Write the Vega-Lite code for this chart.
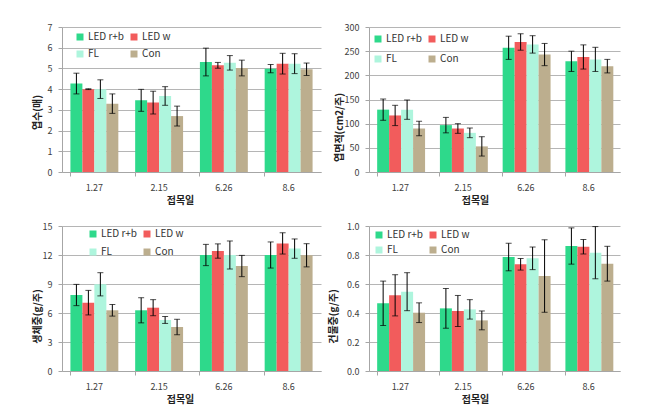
{
  "$schema": "https://vega.github.io/schema/vega-lite/v6.json",
  "padding": {"left": 32, "top": 23, "right": 5, "bottom": 5},
  "background": "white",
  "bounds": "flush",
  "spacing": {"row": 54, "column": 48},
  "columns": 2,
  "datasets": {
    "leafno": [
      {"date": "1.27", "trt": "LED r+b", "v": 4.27, "e": 0.5},
      {"date": "1.27", "trt": "LED w", "v": 4.0, "e": 0.02},
      {"date": "1.27", "trt": "FL", "v": 4.0, "e": 0.45},
      {"date": "1.27", "trt": "Con", "v": 3.3, "e": 0.47},
      {"date": "2.15", "trt": "LED r+b", "v": 3.46, "e": 0.53},
      {"date": "2.15", "trt": "LED w", "v": 3.35, "e": 0.55},
      {"date": "2.15", "trt": "FL", "v": 3.67, "e": 0.45},
      {"date": "2.15", "trt": "Con", "v": 2.7, "e": 0.48},
      {"date": "6.26", "trt": "LED r+b", "v": 5.31, "e": 0.67},
      {"date": "6.26", "trt": "LED w", "v": 5.15, "e": 0.14},
      {"date": "6.26", "trt": "FL", "v": 5.27, "e": 0.35},
      {"date": "6.26", "trt": "Con", "v": 5.02, "e": 0.38},
      {"date": "8.6", "trt": "LED r+b", "v": 4.99, "e": 0.2},
      {"date": "8.6", "trt": "LED w", "v": 5.23, "e": 0.5},
      {"date": "8.6", "trt": "FL", "v": 5.23, "e": 0.48},
      {"date": "8.6", "trt": "Con", "v": 4.96, "e": 0.3}
    ],
    "area": [
      {"date": "1.27", "trt": "LED r+b", "v": 129, "e": 22},
      {"date": "1.27", "trt": "LED w", "v": 117, "e": 21},
      {"date": "1.27", "trt": "FL", "v": 129, "e": 20},
      {"date": "1.27", "trt": "Con", "v": 90, "e": 15},
      {"date": "2.15", "trt": "LED r+b", "v": 97, "e": 16},
      {"date": "2.15", "trt": "LED w", "v": 90, "e": 10},
      {"date": "2.15", "trt": "FL", "v": 81, "e": 10},
      {"date": "2.15", "trt": "Con", "v": 53, "e": 20},
      {"date": "6.26", "trt": "LED r+b", "v": 257, "e": 24},
      {"date": "6.26", "trt": "LED w", "v": 269, "e": 17},
      {"date": "6.26", "trt": "FL", "v": 264, "e": 18},
      {"date": "6.26", "trt": "Con", "v": 243, "e": 23},
      {"date": "8.6", "trt": "LED r+b", "v": 229, "e": 21},
      {"date": "8.6", "trt": "LED w", "v": 238, "e": 25},
      {"date": "8.6", "trt": "FL", "v": 233, "e": 25},
      {"date": "8.6", "trt": "Con", "v": 219, "e": 14}
    ],
    "fresh": [
      {"date": "1.27", "trt": "LED r+b", "v": 7.86, "e": 1.1},
      {"date": "1.27", "trt": "LED w", "v": 7.07, "e": 1.27},
      {"date": "1.27", "trt": "FL", "v": 8.97, "e": 1.2},
      {"date": "1.27", "trt": "Con", "v": 6.28, "e": 0.6},
      {"date": "2.15", "trt": "LED r+b", "v": 6.28, "e": 1.3},
      {"date": "2.15", "trt": "LED w", "v": 6.55, "e": 0.83},
      {"date": "2.15", "trt": "FL", "v": 5.28, "e": 0.36},
      {"date": "2.15", "trt": "Con", "v": 4.55, "e": 0.8},
      {"date": "6.26", "trt": "LED r+b", "v": 12.0, "e": 1.1},
      {"date": "6.26", "trt": "LED w", "v": 12.41, "e": 0.74},
      {"date": "6.26", "trt": "FL", "v": 12.0, "e": 1.45},
      {"date": "6.26", "trt": "Con", "v": 10.86, "e": 1.1},
      {"date": "8.6", "trt": "LED r+b", "v": 12.0, "e": 1.35},
      {"date": "8.6", "trt": "LED w", "v": 13.2, "e": 1.1},
      {"date": "8.6", "trt": "FL", "v": 12.66, "e": 1.0},
      {"date": "8.6", "trt": "Con", "v": 11.97, "e": 1.2}
    ],
    "dry": [
      {"date": "1.27", "trt": "LED r+b", "v": 0.467, "e": 0.153},
      {"date": "1.27", "trt": "LED w", "v": 0.522, "e": 0.142},
      {"date": "1.27", "trt": "FL", "v": 0.547, "e": 0.131},
      {"date": "1.27", "trt": "Con", "v": 0.402, "e": 0.068},
      {"date": "2.15", "trt": "LED r+b", "v": 0.432, "e": 0.137},
      {"date": "2.15", "trt": "LED w", "v": 0.414, "e": 0.107},
      {"date": "2.15", "trt": "FL", "v": 0.425, "e": 0.067},
      {"date": "2.15", "trt": "Con", "v": 0.349, "e": 0.065},
      {"date": "6.26", "trt": "LED r+b", "v": 0.786, "e": 0.095},
      {"date": "6.26", "trt": "LED w", "v": 0.736, "e": 0.04},
      {"date": "6.26", "trt": "FL", "v": 0.777, "e": 0.078},
      {"date": "6.26", "trt": "Con", "v": 0.655, "e": 0.25},
      {"date": "8.6", "trt": "LED r+b", "v": 0.862, "e": 0.125},
      {"date": "8.6", "trt": "LED w", "v": 0.857, "e": 0.05},
      {"date": "8.6", "trt": "FL", "v": 0.816, "e": 0.18},
      {"date": "8.6", "trt": "Con", "v": 0.74, "e": 0.12}
    ]
  },
  "concat": [
    {
      "width": 259, "height": 145,
      "data": {"name": "leafno"},
      "encoding": {
        "x": {"field": "date", "type": "nominal", "sort": ["1.27", "2.15", "6.26", "8.6"], "scale": {"paddingInner": 0.26, "paddingOuter": 0.13}, "title": "접목일", "axis": {"titleX": 118}},
        "xOffset": {"field": "trt", "type": "nominal", "sort": ["LED r+b", "LED w", "FL", "Con"]},
        "y": {"field": "v", "type": "quantitative", "scale": {"domain": [0, 7]}, "title": "엽수(매)", "axis": {"values": [0, 1, 2, 3, 4, 5, 6, 7], "titleX": -25, "titleY": 85}}
      },
      "layer": [
        {"mark": {"type": "bar"}, "encoding": {"color": {"field": "trt", "type": "nominal", "sort": ["LED r+b", "LED w", "FL", "Con"], "scale": {"domain": ["LED r+b", "LED w", "FL", "Con"], "range": ["#2ed98b", "#f25c5c", "#aef5dd", "#bcae8e"]}, "legend": {"legendX": 13, "legendY": 5, "rowPadding": 7}}}},
        {"mark": {"type": "errorbar", "ticks": {"size": 6}, "color": "black", "thickness": 1}, "encoding": {"yError": {"field": "e"}}}
      ]
    },
    {
      "width": 251, "height": 145,
      "data": {"name": "area"},
      "encoding": {
        "x": {"field": "date", "type": "nominal", "sort": ["1.27", "2.15", "6.26", "8.6"], "scale": {"paddingInner": 0.26, "paddingOuter": 0.13}, "title": "접목일", "axis": {"titleX": 106}},
        "xOffset": {"field": "trt", "type": "nominal", "sort": ["LED r+b", "LED w", "FL", "Con"]},
        "y": {"field": "v", "type": "quantitative", "scale": {"domain": [0, 300]}, "title": "엽면적(cm2/주)", "axis": {"values": [0, 50, 100, 150, 200, 250, 300], "titleX": -30, "titleY": 100}}
      },
      "layer": [
        {"mark": {"type": "bar"}, "encoding": {"color": {"field": "trt", "type": "nominal", "sort": ["LED r+b", "LED w", "FL", "Con"], "scale": {"domain": ["LED r+b", "LED w", "FL", "Con"], "range": ["#2ed98b", "#f25c5c", "#aef5dd", "#bcae8e"]}, "legend": {"legendX": 4, "legendY": 7, "rowPadding": 10}}}},
        {"mark": {"type": "errorbar", "ticks": {"size": 6}, "color": "black", "thickness": 1}, "encoding": {"yError": {"field": "e"}}}
      ]
    },
    {
      "width": 259, "height": 145,
      "data": {"name": "fresh"},
      "encoding": {
        "x": {"field": "date", "type": "nominal", "sort": ["1.27", "2.15", "6.26", "8.6"], "scale": {"paddingInner": 0.26, "paddingOuter": 0.13}, "title": "접목일", "axis": {"titleX": 118}},
        "xOffset": {"field": "trt", "type": "nominal", "sort": ["LED r+b", "LED w", "FL", "Con"]},
        "y": {"field": "v", "type": "quantitative", "scale": {"domain": [0, 15]}, "title": "생체중(g/주)", "axis": {"values": [0, 3, 6, 9, 12, 15], "titleX": -25, "titleY": 90}}
      },
      "layer": [
        {"mark": {"type": "bar"}, "encoding": {"color": {"field": "trt", "type": "nominal", "sort": ["LED r+b", "LED w", "FL", "Con"], "scale": {"domain": ["LED r+b", "LED w", "FL", "Con"], "range": ["#2ed98b", "#f25c5c", "#aef5dd", "#bcae8e"]}, "legend": {"legendX": 26, "legendY": 3, "rowPadding": 8}}}},
        {"mark": {"type": "errorbar", "ticks": {"size": 6}, "color": "black", "thickness": 1}, "encoding": {"yError": {"field": "e"}}}
      ]
    },
    {
      "width": 251, "height": 145,
      "data": {"name": "dry"},
      "encoding": {
        "x": {"field": "date", "type": "nominal", "sort": ["1.27", "2.15", "6.26", "8.6"], "scale": {"paddingInner": 0.26, "paddingOuter": 0.13}, "title": "접목일", "axis": {"titleX": 106}},
        "xOffset": {"field": "trt", "type": "nominal", "sort": ["LED r+b", "LED w", "FL", "Con"]},
        "y": {"field": "v", "type": "quantitative", "scale": {"domain": [0, 1]}, "title": "건물중(g/주)", "axis": {"values": [0, 0.2, 0.4, 0.6, 0.8, 1.0], "format": ".1f", "titleX": -36, "titleY": 90}}
      },
      "layer": [
        {"mark": {"type": "bar"}, "encoding": {"color": {"field": "trt", "type": "nominal", "sort": ["LED r+b", "LED w", "FL", "Con"], "scale": {"domain": ["LED r+b", "LED w", "FL", "Con"], "range": ["#2ed98b", "#f25c5c", "#aef5dd", "#bcae8e"]}, "legend": {"legendX": 5, "legendY": 4, "rowPadding": 5}}}},
        {"mark": {"type": "errorbar", "ticks": {"size": 6}, "color": "black", "thickness": 1}, "encoding": {"yError": {"field": "e"}}}
      ]
    }
  ],
  "resolve": {"scale": {"y": "independent", "x": "independent", "color": "independent"}, "legend": {"color": "independent"}},
  "config": {
    "font": "Noto Sans CJK KR",
    "view": {"stroke": null},
    "axis": {
      "labelFont": "Noto Sans CJK KR", "labelFontSize": 9, "labelColor": "#404040",
      "titleFont": "Noto Sans CJK KR", "titleFontSize": 10, "titleFontWeight": "bold", "titleColor": "#222222",
      "domainColor": "#a6a6a6", "tickColor": "#a6a6a6", "tickSize": 4
    },
    "axisX": {"grid": false, "labelAngle": 0, "labelPadding": 7, "bandPosition": 0, "titleY": 28, "titleBaseline": "middle", "titleAnchor": "middle"},
    "axisY": {"grid": true, "gridColor": "#b5b5b5", "labelPadding": 6, "titleBaseline": "middle", "titleAnchor": "middle", "titleAngle": -90},
    "legend": {
      "orient": "none", "direction": "horizontal", "columns": 2, "title": null, "symbolType": "square", "symbolSize": 49,
      "symbolStrokeWidth": 0, "labelFont": "Noto Sans CJK KR", "labelFontSize": 10, "labelColor": "#333333",
      "labelOffset": 3, "columnPadding": 4, "padding": 0
    }
  }
}
